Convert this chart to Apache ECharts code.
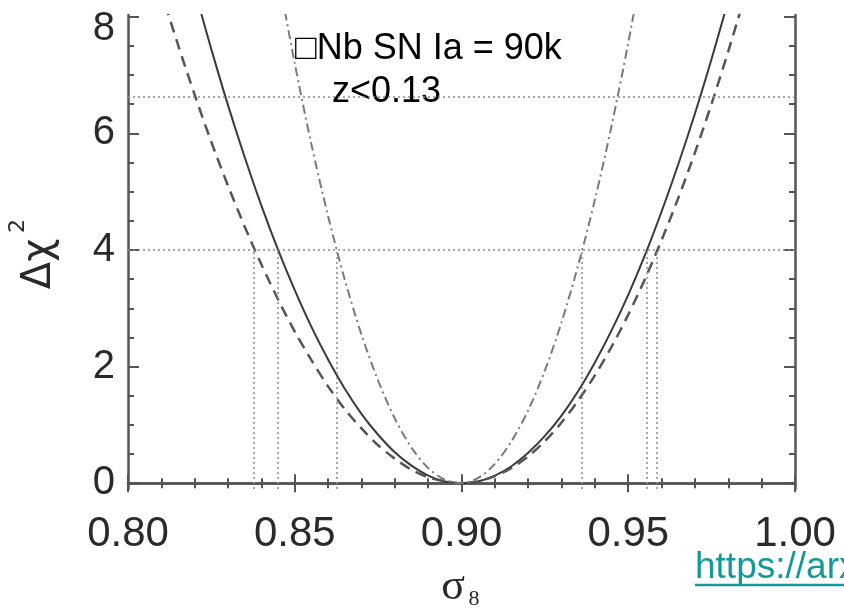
<!DOCTYPE html>
<html>
<head>
<meta charset="utf-8">
<script src="https://cdn.jsdelivr.net/npm/echarts@6/dist/echarts.min.js"></script>
<style>
  html, body { margin: 0; padding: 0; background: #fff; }
  #main { width: 844px; height: 611px; }
</style>
</head>
<body>
<div id="main"></div>
<script>
// 三条 Δχ² 曲线
var solidX = [0.82, 0.825, 0.83, 0.835, 0.84, 0.845, 0.85, 0.855, 0.86, 0.865, 0.87, 0.875, 0.88, 0.885, 0.89, 0.895, 0.90,
              0.905, 0.91, 0.915, 0.92, 0.925, 0.93, 0.935, 0.94, 0.945, 0.95, 0.955, 0.96, 0.965, 0.97, 0.975, 0.98];
var solidY = [8.46, 7.44, 6.48, 5.59, 4.76, 4.00, 3.31, 2.68, 2.12, 1.62, 1.19, 0.83, 0.53, 0.30, 0.13, 0.03, 0,
              0.03, 0.13, 0.29, 0.52, 0.81, 1.16, 1.58, 2.07, 2.62, 3.23, 3.91, 4.66, 5.47, 6.34, 7.28, 8.28];

var dashedX = [0.805, 0.81, 0.815, 0.82, 0.825, 0.83, 0.835, 0.84, 0.845, 0.85, 0.855, 0.86, 0.865, 0.87, 0.875, 0.88, 0.885, 0.89, 0.895, 0.90,
               0.905, 0.91, 0.915, 0.92, 0.925, 0.93, 0.935, 0.94, 0.945, 0.95, 0.955, 0.96, 0.965, 0.97, 0.975, 0.98, 0.985];
var dashedY = [9.39, 8.43, 7.52, 6.66, 5.85, 5.10, 4.40, 3.75, 3.15, 2.60, 2.11, 1.66, 1.27, 0.94, 0.65, 0.42, 0.23, 0.10, 0.03, 0,
               0.03, 0.12, 0.26, 0.46, 0.72, 1.04, 1.42, 1.85, 2.34, 2.89, 3.50, 4.17, 4.89, 5.67, 6.51, 7.41, 8.36];

var dashdotX = [0.845, 0.85, 0.855, 0.86, 0.865, 0.87, 0.875, 0.88, 0.885, 0.89, 0.895, 0.90,
                0.905, 0.91, 0.915, 0.92, 0.925, 0.93, 0.935, 0.94, 0.945, 0.95, 0.955];
var dashdotY = [8.73, 7.20, 5.81, 4.58, 3.49, 2.55, 1.76, 1.11, 0.61, 0.26, 0.06, 0,
                0.09, 0.33, 0.72, 1.25, 1.93, 2.76, 3.74, 4.86, 6.13, 7.55, 9.12];

// 参考线
var hLineY = [4, 6.63];
var vLineX = [0.8377, 0.8449, 0.8626, 0.9362, 0.9554, 0.9584];

// 刻度
var xMajor = [0.80, 0.85, 0.90, 0.95, 1.00];
var xMinor = [0.81, 0.82, 0.83, 0.84, 0.86, 0.87, 0.88, 0.89, 0.91, 0.92, 0.93, 0.94, 0.96, 0.97, 0.98, 0.99];
var yMajor = [0, 2, 4, 6, 8];
var yMinor = [0.5, 1, 1.5, 2.5, 3, 3.5, 4.5, 5, 5.5, 6.5, 7, 7.5];

var X_MIN = 0.80, X_MAX = 1.00, Y_MIN = -0.1, Y_MAX = 8.03;

function pairs(xs, ys) {
    var out = [];
    for (var i = 0; i < xs.length; i++) out.push([xs[i], ys[i]]);
    return out;
}

var chart = echarts.init(document.getElementById('main'));

var lineCol = '#555';
function makeAxis(pos, min, max, ticks, len, showLine, labels) {
    return {
        type: 'value',
        position: pos,
        min: min,
        max: max,
        splitLine: { show: false },
        axisLine: { show: showLine, lineStyle: { color: lineCol, width: 2.5 } },
        axisTick: { show: true, inside: true, length: len, customValues: ticks,
                    lineStyle: { color: lineCol, width: 2 } },
        axisLabel: labels ? labels : { show: false }
    };
}

var xLabel = {
    show: true, customValues: xMajor, margin: 24,
    fontFamily: 'Liberation Sans', fontSize: 42, color: '#2a2a2a',
    formatter: function (v) { return v.toFixed(2); }
};
var yLabel = {
    show: true, customValues: yMajor, margin: 13,
    fontFamily: 'Liberation Sans', fontSize: 40, color: '#2a2a2a',
    formatter: function (v) { return v === 8 ? '{top|8}' : String(v); },
    rich: { top: { fontFamily: 'Liberation Sans', fontSize: 40, color: '#2a2a2a', padding: [24, 0, 0, 0] } }
};

var refLines = [];
for (var i = 0; i < hLineY.length; i++) {
    refLines.push([{ coord: [X_MIN, hLineY[i]] }, { coord: [X_MAX, hLineY[i]] }]);
}
for (var j = 0; j < vLineX.length; j++) {
    refLines.push([{ coord: [vLineX[j], Y_MIN] }, { coord: [vLineX[j], 4] }]);
}

var option = {
    animation: false,
    backgroundColor: '#fff',
    grid: { left: 128, right: 49, top: 15, bottom: 122, containLabel: false, outerBoundsMode: 'none' },
    xAxis: [
        makeAxis('bottom', X_MIN, X_MAX, xMajor, 9, true, xLabel),
        makeAxis('bottom', X_MIN, X_MAX, xMinor, 5, false),
        makeAxis('top', X_MIN, X_MAX, xMajor, 9, true),
        makeAxis('top', X_MIN, X_MAX, xMinor, 5, false)
    ],
    yAxis: [
        makeAxis('left', Y_MIN, Y_MAX, yMajor, 11, true, yLabel),
        makeAxis('left', Y_MIN, Y_MAX, yMinor, 6, false),
        makeAxis('right', Y_MIN, Y_MAX, yMajor, 11, true),
        makeAxis('right', Y_MIN, Y_MAX, yMinor, 6, false)
    ],
    series: [
        {
            type: 'line', name: 'solid', data: pairs(solidX, solidY),
            showSymbol: false, smooth: 0.3, clip: true,
            lineStyle: { color: '#3a3a3a', width: 2 },
            markLine: {
                silent: true, symbol: ['none', 'none'],
                lineStyle: { color: '#8a8a8a', width: 1.5, type: [2, 3] },
                label: { show: false },
                data: refLines
            }
        },
        {
            type: 'line', name: 'dashed', data: pairs(dashedX, dashedY),
            showSymbol: false, smooth: 0.3, clip: true,
            lineStyle: { color: '#555', width: 2.5, type: [11, 7] }
        },
        {
            type: 'line', name: 'dashdot', data: pairs(dashdotX, dashdotY),
            showSymbol: false, smooth: 0.3, clip: true,
            lineStyle: { color: '#7a7a7a', width: 2, type: [9, 4, 2, 4] }
        }
    ],
    graphic: [
        {
            type: 'text', left: 295, top: 31,
            style: { text: '\u25A1Nb SN Ia = 90k', fontFamily: 'Liberation Sans', fontSize: 36, fill: '#000' }
        },
        {
            type: 'text', left: 332, top: 74,
            style: { text: 'z<0.13', fontFamily: 'Liberation Sans', fontSize: 36, fill: '#000' }
        },
        {
            type: 'text', x: 40, y: 264, rotation: Math.PI / 2,
            style: {
                text: '\u0394\u03C7', fontFamily: 'DejaVu Sans', fontSize: 40, fill: '#2a2a2a',
                align: 'center', verticalAlign: 'middle'
            }
        },
        {
            type: 'text', x: 18, y: 226, rotation: Math.PI / 2,
            style: {
                text: '2', fontFamily: 'DejaVu Sans', fontSize: 22, fill: '#2a2a2a',
                align: 'center', verticalAlign: 'middle'
            }
        },
        {
            type: 'text', x: 453, y: 587,
            style: {
                text: '\u03C3', fontFamily: 'Liberation Serif', fontSize: 44, fill: '#2a2a2a',
                align: 'center', verticalAlign: 'middle'
            }
        },
        {
            type: 'text', x: 474, y: 599,
            style: {
                text: '8', fontFamily: 'Liberation Serif', fontSize: 22, fill: '#2a2a2a',
                align: 'center', verticalAlign: 'middle'
            }
        },
        {
            type: 'text', left: 695, top: 549,
            style: { text: 'https://arxiv.org/', fontFamily: 'Liberation Sans', fontSize: 37, fill: '#12999a' }
        },
        {
            type: 'line', shape: { x1: 695, y1: 585, x2: 844, y2: 585 },
            style: { stroke: '#12999a', lineWidth: 2.5 }
        }
    ]
};

chart.setOption(option);

window.onresize = function () {
    chart.resize();
};
</script>
</body>
</html>
